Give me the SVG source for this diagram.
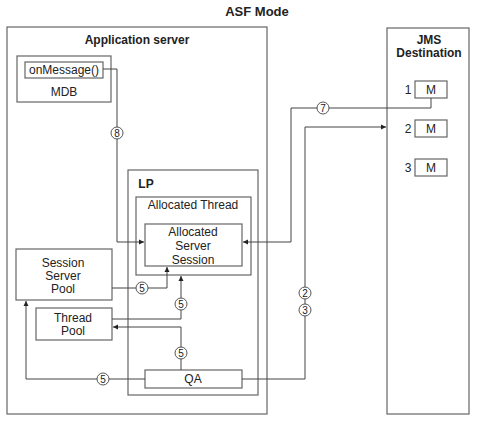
<svg xmlns="http://www.w3.org/2000/svg" width="477" height="422" viewBox="0 0 477 422">
<defs>
<marker id="ah" markerWidth="6" markerHeight="6" refX="5" refY="3" orient="auto" markerUnits="userSpaceOnUse">
<path d="M0,0.5 L5,3 L0,5.5 Z" fill="#222"/>
</marker>
<style>
.box{fill:#fff;stroke:#666;stroke-width:1.2}
.cont{fill:none;stroke:#666;stroke-width:1.2}
.t{font-family:"Liberation Sans",Arial,sans-serif;font-size:12px;fill:#222;text-anchor:middle}
.b{font-weight:bold}
.ln{fill:none;stroke:#444;stroke-width:1}
.c{fill:#fff;stroke:#444;stroke-width:0.9}
.n{font-family:"Liberation Sans",Arial,sans-serif;font-size:10px;fill:#222;text-anchor:middle}
</style>
</defs>
<rect width="477" height="422" fill="#fff"/>
<text class="t b" x="257" y="16" style="font-size:13px">ASF Mode</text>
<g id="appserver">
<rect class="cont" x="7" y="27" width="260" height="387"/>
<text class="t b" x="137" y="44">Application server</text>
</g>
<g id="jms">
<rect class="cont" x="387" y="28" width="82" height="386"/>
<text class="t b" x="429" y="44">JMS</text>
<text class="t b" x="429" y="57">Destination</text>
</g>
<g id="m1"><rect class="box" x="415" y="81" width="32" height="17"/><text class="t" x="431" y="94">M</text><text class="t" x="408" y="94">1</text></g>
<g id="m2"><rect class="box" x="415" y="120" width="32" height="17"/><text class="t" x="431" y="133">M</text><text class="t" x="408" y="133">2</text></g>
<g id="m3"><rect class="box" x="415" y="159" width="32" height="17"/><text class="t" x="431" y="172">M</text><text class="t" x="408" y="172">3</text></g>
<g id="mdb">
<rect class="box" x="17" y="56" width="94" height="46"/>
<rect class="box" x="25" y="62" width="78" height="16"/>
<text class="t" x="64" y="74">onMessage()</text>
<text class="t" x="64" y="96">MDB</text>
</g>
<g id="lp">
<rect class="cont" x="128" y="170" width="130" height="225"/>
<text class="t b" x="146" y="188">LP</text>
</g>
<g id="thread">
<rect class="cont" x="136" y="197" width="115" height="78"/>
<text class="t" x="193" y="209">Allocated Thread</text>
</g>
<g id="ass">
<rect class="box" x="145" y="224" width="97" height="42"/>
<text class="t" x="193" y="236">Allocated</text>
<text class="t" x="193" y="250">Server</text>
<text class="t" x="193" y="264">Session</text>
</g>
<g id="ssp">
<rect class="box" x="16" y="249" width="96" height="51"/>
<text class="t" x="63" y="267">Session</text>
<text class="t" x="63" y="280">Server</text>
<text class="t" x="63" y="293">Pool</text>
</g>
<g id="tp">
<rect class="box" x="36" y="308" width="76" height="32"/>
<text class="t" x="73" y="322">Thread</text>
<text class="t" x="73" y="335">Pool</text>
</g>
<g id="qa">
<rect class="box" x="145" y="370" width="97" height="18"/>
<text class="t" x="193" y="383">QA</text>
</g>
<g id="connectors">
<path class="ln" d="M103,69 H117 V242 H144" marker-end="url(#ah)"/>
<path class="ln" d="M431,98 V108 H291 V242 H243" marker-end="url(#ah)"/>
<path class="ln" d="M242,379 H305 V127 H386" marker-end="url(#ah)"/>
<path class="ln" d="M112,288 H167 V267" marker-end="url(#ah)"/>
<path class="ln" d="M112,319 H181 V276" marker-end="url(#ah)"/>
<path class="ln" d="M181,370 V327 H113" marker-end="url(#ah)"/>
<path class="ln" d="M145,379 H26 V301" marker-end="url(#ah)"/>
<circle class="c" cx="117" cy="133" r="6"/><text class="n" x="117" y="137">8</text>
<circle class="c" cx="323" cy="108" r="6"/><text class="n" x="323" y="112">7</text>
<circle class="c" cx="305" cy="293" r="6"/><text class="n" x="305" y="297">2</text>
<circle class="c" cx="305" cy="310" r="6"/><text class="n" x="305" y="314">3</text>
<circle class="c" cx="142" cy="288" r="6"/><text class="n" x="142" y="292">5</text>
<circle class="c" cx="181" cy="304" r="6"/><text class="n" x="181" y="308">5</text>
<circle class="c" cx="181" cy="353" r="6"/><text class="n" x="181" y="357">5</text>
<circle class="c" cx="103" cy="379" r="6"/><text class="n" x="103" y="383">5</text>
</g>
</svg>
